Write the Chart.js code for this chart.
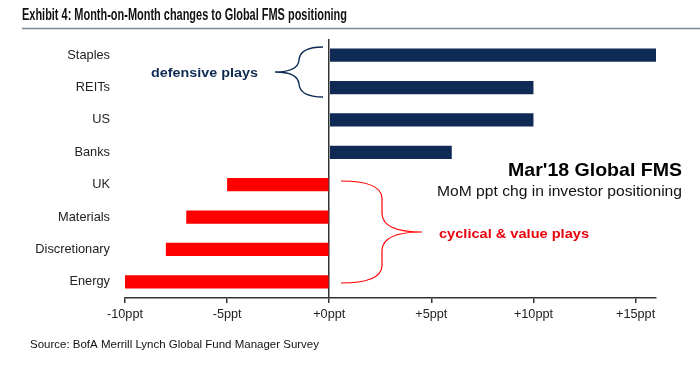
<!DOCTYPE html>
<html>
<head>
<meta charset="utf-8">
<script src="https://cdn.jsdelivr.net/npm/chart.js@4.4.1/dist/chart.umd.min.js"></script>
<style>
  body { margin: 0; background: #fff; }
  canvas { display: block; }
</style>
</head>
<body>
<canvas id="fmsChart" width="700" height="369"></canvas>
<script>
const categories = ['Staples', 'REITs', 'US', 'Banks', 'UK', 'Materials', 'Discretionary', 'Energy'];
const changes = [16, 10, 10, 6, -5, -7, -8, -10];
const tickValues = [-10, -5, 0, 5, 10, 15];

const NAVY = '#0f2b55';
const RED = '#ff0000';

// draw text, squeezed horizontally to a target width when given
function drawText(ctx, str, x, y, font, color, align, width) {
    ctx.save();
    ctx.font = font;
    ctx.fillStyle = color;
    ctx.textBaseline = 'middle';
    ctx.textAlign = 'left';
    const w = ctx.measureText(str).width;
    const sx = width ? width / w : 1;
    const realW = w * sx;
    let left = x;
    if (align === 'right') left = x - realW;
    if (align === 'center') left = x - realW / 2;
    ctx.translate(left, y);
    ctx.scale(sx, 1);
    ctx.fillText(str, 0, 0);
    ctx.restore();
}

const annotations = {
    id: 'annotations',
    afterDraw(chart) {
        const ctx = chart.ctx;

        // header
        drawText(ctx, 'Exhibit 4: Month-on-Month changes to Global FMS positioning', 22, 16,
            'bold 16px "Liberation Sans Narrow", "Liberation Sans", Arial', '#111', 'left', 325);
        ctx.save();
        ctx.strokeStyle = '#7d8791';
        ctx.lineWidth = 1.5;
        ctx.beginPath();
        ctx.moveTo(22, 28.5);
        ctx.lineTo(700, 28.5);
        ctx.stroke();
        ctx.restore();

        // defensive brace
        ctx.save();
        ctx.strokeStyle = NAVY;
        ctx.lineWidth = 1.4;
        ctx.beginPath();
        ctx.moveTo(323, 47);
        ctx.quadraticCurveTo(300, 47, 299, 60);
        ctx.quadraticCurveTo(298, 72, 275, 72);
        ctx.quadraticCurveTo(298, 72, 299, 84);
        ctx.quadraticCurveTo(300, 97, 323, 97);
        ctx.stroke();

        // cyclical brace
        ctx.strokeStyle = RED;
        ctx.lineWidth = 1.2;
        ctx.beginPath();
        ctx.moveTo(341, 181);
        ctx.quadraticCurveTo(381, 181, 382, 198);
        ctx.lineTo(382, 214);
        ctx.quadraticCurveTo(383, 232, 422, 232);
        ctx.quadraticCurveTo(383, 232, 382, 250);
        ctx.lineTo(382, 266);
        ctx.quadraticCurveTo(381, 283, 341, 283);
        ctx.stroke();
        ctx.restore();

        drawText(ctx, 'defensive plays', 151, 73, 'bold 13.5px "Liberation Sans", Arial', NAVY, 'left', 107);
        drawText(ctx, 'cyclical & value plays', 439, 234, 'bold 13.5px "Liberation Sans", Arial', '#e8000b', 'left', 150);
        drawText(ctx, "Mar'18 Global FMS", 682, 171, 'bold 19px "Liberation Sans", Arial', '#000', 'right', 174);
        drawText(ctx, 'MoM ppt chg in investor positioning', 682, 192, '14.5px "Liberation Sans", Arial', '#111', 'right', 245);
        drawText(ctx, 'Source: BofA Merrill Lynch Global Fund Manager Survey', 30, 345, '11.5px "Liberation Sans", Arial', '#111', 'left', 289);
    }
};

new Chart(document.getElementById('fmsChart'), {
    type: 'bar',
    data: {
        labels: categories,
        datasets: [{
            data: changes,
            backgroundColor: changes.map(v => v >= 0 ? NAVY : RED),
            borderWidth: 0,
            categoryPercentage: 1,
            barPercentage: 0.41
        }]
    },
    options: {
        indexAxis: 'y',
        responsive: false,
        animation: false,
        layout: {
            padding: { left: 0, right: 44, top: 39, bottom: 0 }
        },
        scales: {
            x: {
                min: -10,
                max: 16,
                afterBuildTicks: scale => {
                    scale.ticks = tickValues.map(v => ({ value: v }));
                },
                afterFit: scale => { scale.height = 71; },
                ticks: {
                    padding: 4,
                    color: '#222',
                    font: { family: '"Liberation Sans", Arial', size: 12.7 },
                    callback: v => (v >= 0 ? '+' : '') + v + 'ppt'
                },
                grid: {
                    drawOnChartArea: true,
                    color: c => (c.tick && c.tick.value === 0) ? '#333' : 'rgba(0,0,0,0)',
                    lineWidth: 1.5,
                    tickColor: '#333',
                    tickLength: 5
                },
                border: { color: '#333', width: 1.5 }
            },
            y: {
                afterFit: scale => { scale.width = 125; },
                ticks: {
                    padding: 15,
                    color: '#222',
                    font: { family: '"Liberation Sans", Arial', size: 12.8 }
                },
                grid: { display: false, drawTicks: false },
                border: { display: false }
            }
        },
        plugins: {
            legend: { display: false },
            tooltip: { enabled: false },
            title: { display: false }
        }
    },
    plugins: [annotations]
});
</script>
</body>
</html>
